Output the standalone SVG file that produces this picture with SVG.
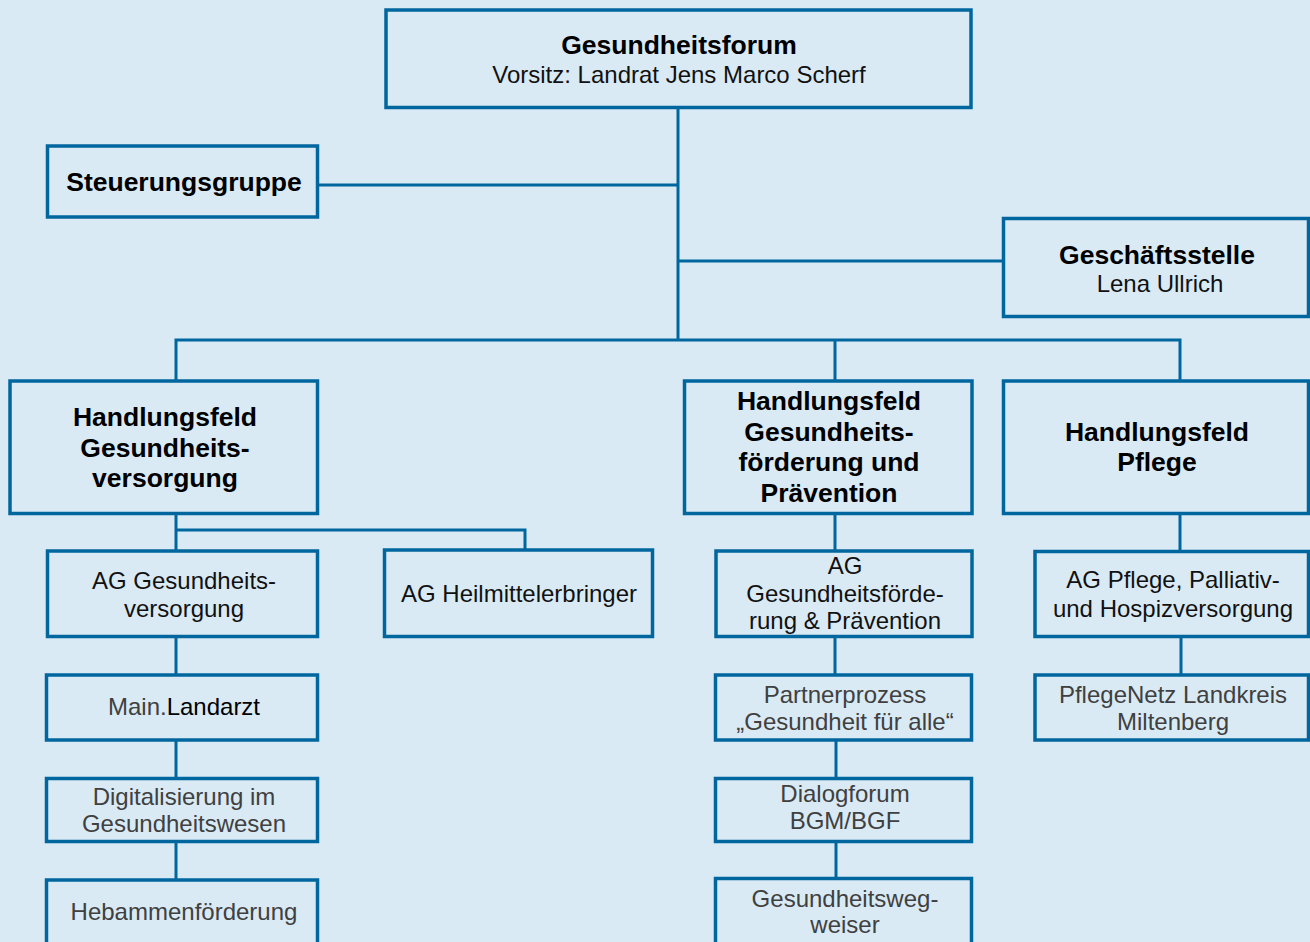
<svg xmlns="http://www.w3.org/2000/svg" width="1310" height="942" viewBox="0 0 1310 942">
<style>
.bg{fill:#d9eaf5}
.box{fill:#d9eaf5;stroke:#00679e;stroke-width:3.5}
.ln{stroke:#00679e;stroke-width:3;fill:none}
text{font-family:"Liberation Sans",Arial,sans-serif;text-anchor:middle}
.b{font-weight:bold;font-size:26.5px;fill:#000}
.r{font-size:24px;fill:#111}
.g{font-size:24px;fill:#404040}
</style>
<rect class="bg" x="0" y="0" width="1310" height="942"/>
<g id="connectors">
<path class="ln" d="M678 108V340"/>
<path class="ln" d="M318 185H678"/>
<path class="ln" d="M678 261H1003"/>
<path class="ln" d="M176 381V340H1180V381"/>
<path class="ln" d="M835 340V381"/>
<path class="ln" d="M176 514V551"/>
<path class="ln" d="M176 530H525V551"/>
<path class="ln" d="M176 636V675"/>
<path class="ln" d="M176 740V778"/>
<path class="ln" d="M176 842V880"/>
<path class="ln" d="M835 514V551"/>
<path class="ln" d="M835 636V675"/>
<path class="ln" d="M836 740V778"/>
<path class="ln" d="M836 842V878"/>
<path class="ln" d="M1180 514V551"/>
<path class="ln" d="M1181 636V675"/>
</g>
<g id="gesundheitsforum">
<rect class="box" x="386" y="10" width="585" height="97.5"/>
<text class="b" x="679" y="54">Gesundheitsforum</text>
<text class="r" x="679" y="83">Vorsitz: Landrat Jens Marco Scherf</text>
</g>
<g id="steuerungsgruppe">
<rect class="box" x="47.5" y="146" width="270" height="71"/>
<text class="b" x="184" y="191">Steuerungsgruppe</text>
</g>
<g id="geschaeftsstelle">
<rect class="box" x="1003.5" y="218.5" width="305" height="98"/>
<text class="b" x="1157" y="264">Geschäftsstelle</text>
<text class="r" x="1160" y="292">Lena Ullrich</text>
</g>
<g id="hf-versorgung">
<rect class="box" x="10" y="381" width="307.5" height="132.5"/>
<text class="b" x="165" y="426">Handlungsfeld</text>
<text class="b" x="165" y="457">Gesundheits-</text>
<text class="b" x="165" y="487">versorgung</text>
</g>
<g id="hf-foerderung">
<rect class="box" x="684.5" y="381" width="287.5" height="132.5"/>
<text class="b" x="829" y="410">Handlungsfeld</text>
<text class="b" x="829" y="441">Gesundheits-</text>
<text class="b" x="829" y="471">förderung und</text>
<text class="b" x="829" y="502">Prävention</text>
</g>
<g id="hf-pflege">
<rect class="box" x="1003.5" y="381" width="305" height="132.5"/>
<text class="b" x="1157" y="441">Handlungsfeld</text>
<text class="b" x="1157" y="471">Pflege</text>
</g>
<g id="ag-versorgung">
<rect class="box" x="47.5" y="551" width="270" height="85.5"/>
<text class="r" x="184" y="589">AG Gesundheits-</text>
<text class="r" x="184" y="617">versorgung</text>
</g>
<g id="ag-heilmittel">
<rect class="box" x="384.5" y="550" width="268" height="86.5"/>
<text class="r" x="519" y="602">AG Heilmittelerbringer</text>
</g>
<g id="ag-foerderung">
<rect class="box" x="716" y="551" width="256" height="85.5"/>
<text class="r" x="845" y="574">AG</text>
<text class="r" x="845" y="602">Gesundheitsförde-</text>
<text class="r" x="845" y="629">rung &amp; Prävention</text>
</g>
<g id="ag-pflege">
<rect class="box" x="1035" y="551.5" width="273.5" height="85"/>
<text class="r" x="1173" y="588">AG Pflege, Palliativ-</text>
<text class="r" x="1173" y="617">und Hospizversorgung</text>
</g>
<g id="main-landarzt">
<rect class="box" x="46.5" y="675" width="271" height="65"/>
<text class="g" x="184" y="715">Main.<tspan fill="#000">Landarzt</tspan></text>
</g>
<g id="digitalisierung">
<rect class="box" x="46.5" y="778.5" width="271" height="63"/>
<text class="g" x="184" y="805">Digitalisierung im</text>
<text class="g" x="184" y="832">Gesundheitswesen</text>
</g>
<g id="hebammen">
<rect class="box" x="46.5" y="880" width="271" height="70"/>
<text class="g" x="184" y="920">Hebammenförderung</text>
</g>
<g id="partnerprozess">
<rect class="box" x="715.5" y="675" width="256" height="65"/>
<text class="g" x="845" y="703">Partnerprozess</text>
<text class="g" x="845" y="730">„Gesundheit für alle“</text>
</g>
<g id="dialogforum">
<rect class="box" x="715.5" y="778.5" width="256" height="63"/>
<text class="g" x="845" y="802">Dialogforum</text>
<text class="g" x="845" y="829">BGM/BGF</text>
</g>
<g id="gesundheitswegweiser">
<rect class="box" x="715.5" y="878.5" width="256" height="72"/>
<text class="g" x="845" y="907">Gesundheitsweg-</text>
<text class="g" x="845" y="933">weiser</text>
</g>
<g id="pflegenetz">
<rect class="box" x="1035" y="675" width="273.5" height="65"/>
<text class="g" x="1173" y="703">PflegeNetz Landkreis</text>
<text class="g" x="1173" y="730">Miltenberg</text>
</g>
</svg>
